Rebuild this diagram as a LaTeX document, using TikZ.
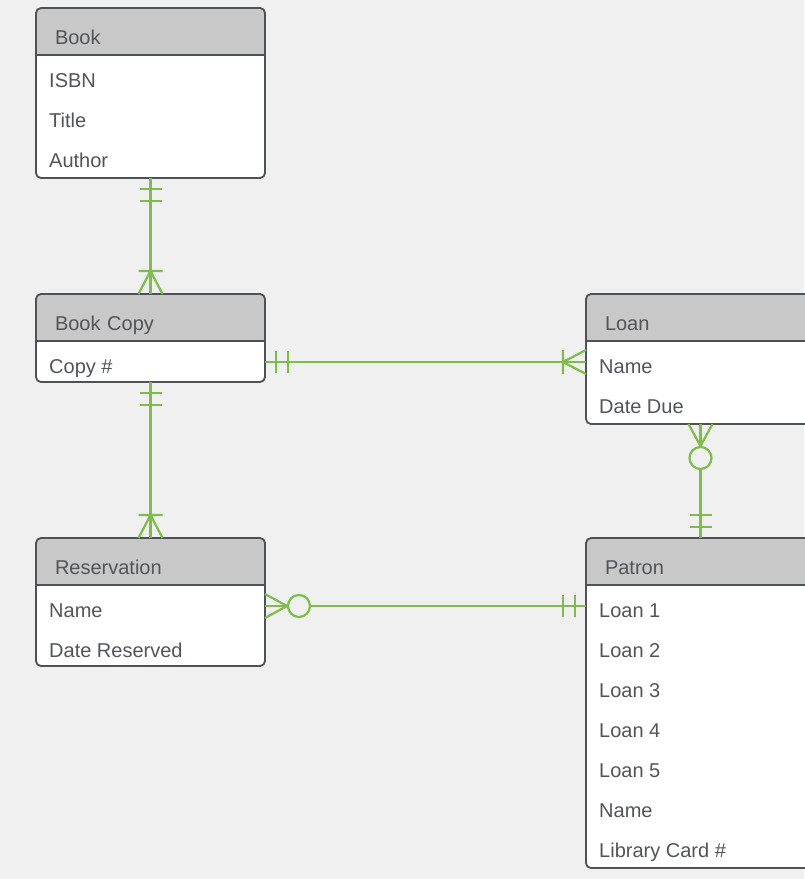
\documentclass[tikz,border=0pt]{standalone}
\usepackage{fontspec}
\setmainfont{Liberation Sans}
\usetikzlibrary{positioning,calc}
\usetikzlibrary{backgrounds}
\usetikzlibrary{decorations.markings}

\definecolor{bgcol}{HTML}{F0F0F0}
\definecolor{headgray}{HTML}{C8C8C8}
\definecolor{edgegray}{HTML}{4E5257}
\definecolor{txtgray}{HTML}{50555B}
\definecolor{ergreen}{HTML}{7DBD4C}

\tikzset{
  rel/.style={ergreen, line width=2.2pt},
  one start/.style={postaction={decorate, decoration={markings,
    mark=at position 11pt with {\draw[rel] (0,-11pt) -- (0,11pt);},
    mark=at position 23pt with {\draw[rel] (0,-11pt) -- (0,11pt);}}}},
  one end/.style={postaction={decorate, decoration={markings,
    mark=at position -23pt with {\draw[rel] (0,-11pt) -- (0,11pt);},
    mark=at position -11pt with {\draw[rel] (0,-11pt) -- (0,11pt);}}}},
  many end/.style={postaction={decorate, decoration={markings,
    mark=at position 1 with {\draw[rel] (-23pt,-12pt) -- (-23pt,12pt) (0,-12pt) -- (-23pt,0) -- (0,12pt);}}}},
  zero many start/.style={postaction={decorate, decoration={markings,
    mark=at position 0 with {\draw[rel] (0,-12pt) -- (22pt,0) -- (0,12pt); \draw[rel, fill=bgcol] (34pt,0) circle (11pt);}}}}
}

\begin{document}
\begin{tikzpicture}[x=1pt, y=-1pt,
  head/.style={minimum width=229pt, minimum height=47pt, inner sep=0pt, outer sep=0pt,
    text width=191pt, align=left, text height=25pt, text depth=0pt,
    font=\fontsize{20}{24}\selectfont, text=txtgray},
  body/.style={minimum width=229pt, inner sep=0pt, outer sep=0pt},
  row/.style={inner sep=0pt, text height=22pt, text depth=0pt,
    font=\fontsize{20}{24}\selectfont, text=txtgray},
  border/.style={draw=edgegray, line width=1.8pt}]

  % canvas
  \begin{scope}[on background layer]
    \fill[bgcol] (0,0) rectangle (804,879);
  \end{scope}
  \useasboundingbox (0,0) rectangle (804,879);

  % one table: name, top left corner, title, body height, rows
  \newcommand{\entity}[5]{%
    \node[head, anchor=north west] (#1-head) at (#2) {#3};
    \node[body, minimum height=#4, below=0pt of #1-head] (#1) {};
    \foreach \rowtext [count=\i] in {#5}
      \node[row, anchor=base west] (#1-\i) at ($(#1.north west)+(13,32+40*\i-40)$) {\rowtext};
    \begin{scope}[on background layer]
      \begin{scope}
        \clip[rounded corners=5pt] (#1-head.north west) rectangle (#1.south east);
        \fill[white] (#1-head.north west) rectangle (#1.south east);
        \fill[headgray] (#1-head.north west) rectangle (#1-head.south east);
      \end{scope}
      \draw[border, rounded corners=5pt] (#1-head.north west) rectangle (#1.south east);
      \draw[border] (#1-head.south west) -- (#1-head.south east);
    \end{scope}
  }

  % Tables
  \entity{book}{36,8}{Book}{123}{ISBN, Title, Author}
  \entity{bookcopy}{36,294}{Book Copy}{41}{Copy \#}
  \entity{loan}{586,294}{Loan}{83}{Name, Date Due}
  \entity{reservation}{36,538}{Reservation}{81}{Name, Date Reserved}
  \entity{patron}{586,538}{Patron}{283}{Loan 1, Loan 2, Loan 3, Loan 4, Loan 5, Name, Library Card \#}

  % Relations
  \draw[rel, one start, many end] (book.south) -- (bookcopy-head.north);
  \draw[rel, one start, many end] (bookcopy.east |- bookcopy-1) -- (loan.west |- loan-1);
  \draw[rel, one start, many end] (bookcopy.south) -- (reservation-head.north);
  \draw[rel, zero many start, one end] (loan.south) -- (patron-head.north);
  \draw[rel, zero many start, one end] (reservation.east |- reservation-1) -- (patron.west |- patron-1);
\end{tikzpicture}
\end{document}
